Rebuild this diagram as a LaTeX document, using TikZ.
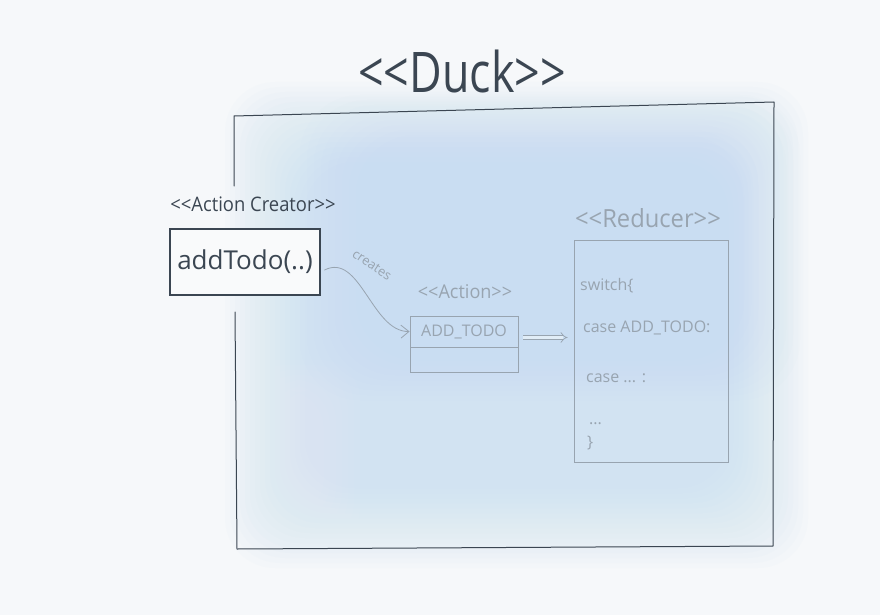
\documentclass[tikz,border=0pt]{standalone}
\usepackage{fontspec}
\setmainfont{Open Sans}
\usetikzlibrary{arrows.meta,calc}
\definecolor{paper}{HTML}{F6F8FA}
\definecolor{wash}{HTML}{C2DDF2}
\definecolor{ink}{HTML}{3B4652}
\definecolor{faded}{HTML}{98A4B0}
\newcommand{\stopen}{<\kern0pt<}
\newcommand{\stclose}{>\kern0pt>}
\tikzset{
  inkline/.style={draw=ink, line width=1pt, line join=round, line cap=round},
  fadedline/.style={draw=faded, line width=0.8pt, line join=round, line cap=round},
  stereo/.style={inner sep=0pt, text=#1},
  classbox/.style={draw=#1, line width=0.9pt, inner sep=0pt, rectangle},
  codeline/.style={anchor=west, inner sep=0pt, text=faded, font=\fontsize{16}{16}\selectfont},
}
\begin{document}
\begin{tikzpicture}[x=1pt,y=-1pt]
\useasboundingbox (0,0) rectangle (880,615);
\fill[paper] (0,0) rectangle (880,615);

% watercolour wash behind the module box
\foreach \i in {0,...,16}
  \fill[wash, opacity=0.05, rounded corners=50]
    ($(225,82)+(\i*5,\i*5)$) rectangle ($(808,568)-(\i*5,\i*5)$);
\foreach \i in {0,...,8}
  \fill[wash, opacity=0.035, rounded corners=60]
    ($(300,95)+(\i*7,\i*5)$) rectangle ($(800,400)-(\i*7,\i*5)$);
% lighter patch towards the lower left
\foreach \i in {0,...,6}
  \fill[paper, opacity=0.04, rounded corners=40]
    ($(238,360)+(\i*6,\i*5)$) rectangle ($(360,548)-(\i*6,\i*5)$);

% module box
\coordinate (d1) at (234,116);
\coordinate (d2) at (774,102);
\coordinate (d3) at (773,546);
\coordinate (d4) at (237,549);
\draw[inkline] (234,186) -- (d1) -- (d2) -- (d3) -- (d4) -- (235,312);
\node[stereo=ink, font=\fontsize{56}{56}\selectfont, xscale=0.8] (ducktitle) at (462,72) {\stopen Duck\stclose};

% action creator
\node[stereo=ink, font=\fontsize{20}{20}\selectfont, xscale=0.92] (creatorlabel) at (253,204) {\stopen Action Creator\stclose};
\node[classbox=ink, line width=1.1pt, minimum width=150pt, minimum height=66pt, fill=paper!70!white,
      font=\fontsize{26}{26}\selectfont, text=ink] (addtodo) at (245,262) {addTodo(..)};

% action
\node[stereo=faded, font=\fontsize{19}{19}\selectfont, xscale=0.95] (actionlabel) at (465,292) {\stopen Action\stclose};
\node[classbox=faded, minimum width=108pt, minimum height=31pt,
      font=\fontsize{16}{16}\selectfont, text=faded] (actionhead) at (464,331.5) {ADD\_TODO};
\node[classbox=faded, minimum width=108pt, minimum height=25pt, anchor=north] (actionbody) at (actionhead.south) {};

% reducer
\node[stereo=faded, font=\fontsize{25}{25}\selectfont, xscale=0.95] (reducerlabel) at (648,218) {\stopen Reducer\stclose};
\node[classbox=faded, minimum width=154pt, minimum height=222pt] (reducer) at (651,351) {};
\node[codeline] (l1) at (580,286) {switch\{};
\node[codeline] (l2) at (583,328) {case ADD\_TODO:};
\node[codeline] (l3) at (586,378) {case ... :};
\node[codeline] (l4) at (589,424) {...};
\node[codeline] (l5) at (587,443) {\}};

% connectors
\draw[fadedline, -{Straight Barb[length=8pt,width=13pt]}]
  ([xshift=4pt,yshift=-8pt]addtodo.east) .. controls (360,252) and (372,332) .. (actionhead.west);
\node[stereo=faded, font=\fontsize{13}{13}\selectfont, rotate=-34] (createslabel) at (372,265) {creates};
\draw[draw=faded, line width=0.7pt, double=paper!60!wash, double distance=3pt, -{Implies}]
  ([xshift=5pt,yshift=-6pt]actionhead.east) -- ([xshift=-6pt,yshift=-6pt]actionhead.east -| reducer.west);
\end{tikzpicture}
\end{document}
